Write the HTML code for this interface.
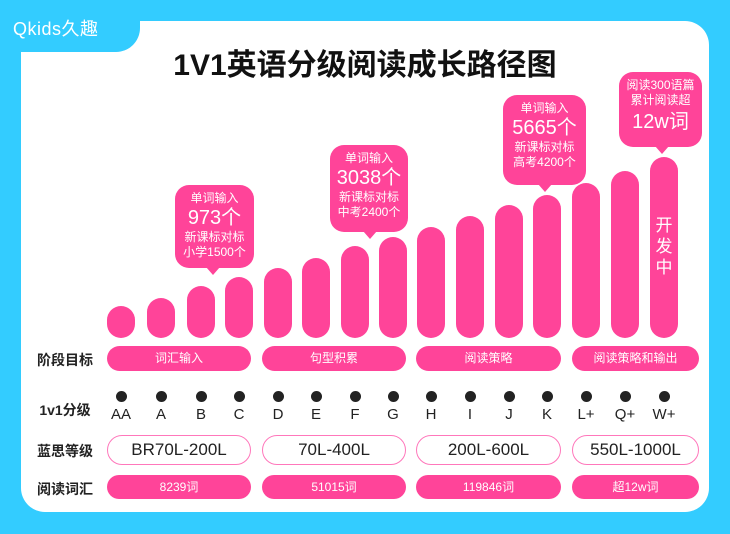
<!DOCTYPE html>
<html><head><meta charset="utf-8"><style>
*{margin:0;padding:0;box-sizing:border-box}
body{width:730px;height:534px;background:#33ccff;position:relative;overflow:hidden;font-family:"Liberation Sans","Noto Sans CJK SC",sans-serif}
.card{position:absolute;left:21px;top:21px;width:688px;height:491px;background:#fff;border-radius:24px}
.tab{position:absolute;left:0;top:0;width:140px;height:52px;background:#33ccff;border-bottom-right-radius:24px}
.logo{position:absolute;left:13px;top:15px;color:#fff;font-size:18px;letter-spacing:0.5px}
.title{position:absolute;left:0;width:730px;top:40px;text-align:center;font-size:30px;font-weight:bold;color:#111}
.bar{position:absolute;width:28px;background:#ff4499;border-radius:14px}
.lbl{position:absolute;left:33px;width:64px;text-align:center;font-size:14px;color:#222;font-weight:bold}
.pill{position:absolute;background:#ff4499;color:#fff;border-radius:13px;text-align:center;font-size:12px}
.opill{position:absolute;border:1.5px solid #ff77bb;border-radius:15px;text-align:center;font-size:17px;color:#222;line-height:27px}
.dot{position:absolute;width:11px;height:11px;border-radius:50%;background:#222}
.let{position:absolute;width:40px;text-align:center;font-size:15px;color:#222}
.call{position:absolute;background:#ff4499;color:#fff;border-radius:14px;text-align:center;font-size:12px;line-height:15px;padding-top:6px}
.call:after{content:"";position:absolute;bottom:-7px;left:var(--a);border-left:7px solid transparent;border-right:7px solid transparent;border-top:8px solid #ff4499}
.big{font-size:20px;line-height:24px}
</style></head><body>
<div class="card"></div>
<div class="tab"></div>
<div class="logo">Qkids久趣</div>
<div class="title">1V1英语分级阅读成长路径图</div>

<div class="bar" style="left:107px;top:306px;height:32px"></div>
<div class="bar" style="left:147px;top:298px;height:40px"></div>
<div class="bar" style="left:187px;top:286px;height:52px"></div>
<div class="bar" style="left:225px;top:277px;height:61px"></div>
<div class="bar" style="left:264px;top:268px;height:70px"></div>
<div class="bar" style="left:302px;top:258px;height:80px"></div>
<div class="bar" style="left:341px;top:246px;height:92px"></div>
<div class="bar" style="left:379px;top:237px;height:101px"></div>
<div class="bar" style="left:417px;top:227px;height:111px"></div>
<div class="bar" style="left:456px;top:216px;height:122px"></div>
<div class="bar" style="left:495px;top:205px;height:133px"></div>
<div class="bar" style="left:533px;top:195px;height:143px"></div>
<div class="bar" style="left:572px;top:183px;height:155px"></div>
<div class="bar" style="left:611px;top:171px;height:167px"></div>
<div class="bar" style="left:650px;top:157px;height:181px;color:#fff;font-size:17px;line-height:21px;text-align:center;padding-top:58px">开<br>发<br>中</div>

<div class="call" style="left:175px;top:185px;width:79px;height:83px;--a:31px">单词输入<br><span class="big">973个</span><br>新课标对标<br>小学1500个</div>
<div class="call" style="left:330px;top:145px;width:78px;height:87px;--a:33px">单词输入<br><span class="big">3038个</span><br>新课标对标<br>中考2400个</div>
<div class="call" style="left:503px;top:95px;width:83px;height:90px;--a:35px">单词输入<br><span class="big">5665个</span><br>新课标对标<br>高考4200个</div>
<div class="call" style="left:619px;top:72px;width:83px;height:75px;--a:36px">阅读300语篇<br>累计阅读超<br><span class="big" style="line-height:28px">12w词</span></div>

<div class="lbl" style="top:350px">阶段目标</div>
<div class="lbl" style="top:400px">1v1分级</div>
<div class="lbl" style="top:441px">蓝思等级</div>
<div class="lbl" style="top:479px">阅读词汇</div>

<div class="pill" style="left:107px;top:346px;width:144px;height:25px;line-height:25px">词汇输入</div>
<div class="pill" style="left:262px;top:346px;width:144px;height:25px;line-height:25px">句型积累</div>
<div class="pill" style="left:416px;top:346px;width:145px;height:25px;line-height:25px">阅读策略</div>
<div class="pill" style="left:572px;top:346px;width:127px;height:25px;line-height:25px">阅读策略和输出</div>

<div class="opill" style="left:107px;top:435px;width:144px;height:30px">BR70L-200L</div>
<div class="opill" style="left:262px;top:435px;width:144px;height:30px">70L-400L</div>
<div class="opill" style="left:416px;top:435px;width:145px;height:30px">200L-600L</div>
<div class="opill" style="left:572px;top:435px;width:127px;height:30px">550L-1000L</div>

<div class="pill" style="left:107px;top:475px;width:144px;height:24px;line-height:24px">8239词</div>
<div class="pill" style="left:262px;top:475px;width:144px;height:24px;line-height:24px">51015词</div>
<div class="pill" style="left:416px;top:475px;width:145px;height:24px;line-height:24px">119846词</div>
<div class="pill" style="left:572px;top:475px;width:127px;height:24px;line-height:24px">超12w词</div>

<div id="cols"></div>
<script>
var xs=[121,161,201,239,278,316,355,393,431,470,509,547,586,625,664],ls=["AA","A","B","C","D","E","F","G","H","I","J","K","L+","Q+","W+"],h="";
for(var i=0;i<15;i++){h+='<div class="dot" style="left:'+(xs[i]-5.5)+'px;top:391px"></div><div class="let" style="left:'+(xs[i]-20)+'px;top:406px">'+ls[i]+'</div>';}
document.getElementById("cols").innerHTML=h;
</script>
</body></html>
